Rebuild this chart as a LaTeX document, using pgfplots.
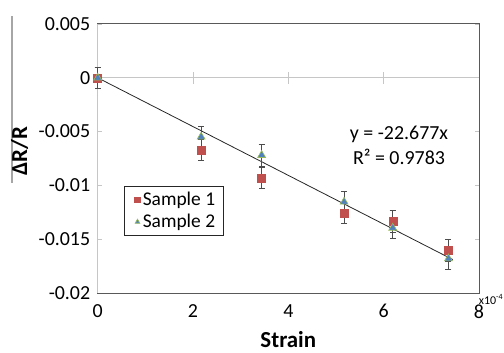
\documentclass[border=0pt]{standalone}
\usepackage{pgfplots}
\pgfplotsset{compat=1.18}
\usepackage{fontspec}
\setmainfont{Carlito}
\definecolor{sone}{HTML}{C0504D}
\definecolor{stwofill}{HTML}{4F81BD}
\definecolor{stwodraw}{HTML}{9BBB59}
\begin{document}
\begin{tikzpicture}
\begin{axis}[
  scale only axis, width=381.3bp, height=269bp,
  xmin=0, xmax=8, ymin=-0.02, ymax=0.005,
  clip=false, scaled y ticks=false, scaled x ticks=false,
  xtick={0,2,4,6,8}, xticklabels={0,2,4,6,8},
  ytick={-0.02,-0.015,-0.01,-0.005,0,0.005},
  yticklabels={-0.02,-0.015,-0.01,-0.005,0,0.005},
  x tick style={draw=none},
  y tick style={draw=gray!45, line width=0.8bp},
  major tick length=4bp, tick align=inside,
  ticklabel style={font=\fontsize{20}{24}\selectfont},
  xticklabel style={yshift=-8bp},
  yticklabel style={xshift=-4bp},
  axis line style={draw=black!65, line width=1bp},
  legend style={at={(axis description cs:0.0698,0.398)}, anchor=north west,
    draw=black!85, line width=1bp, font=\fontsize{19.5}{22}\selectfont,
    inner xsep=6bp, inner ysep=4bp, row sep=3bp},
  legend cell align=left,
  legend image code/.code={\path[draw=none, fill=none] (0bp,0bp) rectangle (10bp,0.1bp); \draw[#1, mark size=2.8bp] plot coordinates {(6.7bp,0bp)};},
  error bars/y dir=both, error bars/y explicit,
  error bars/error bar style={draw=black!70, line width=0.8bp},
  error bars/error mark options={rotate=90, mark size=3bp, draw=black!70, line width=0.8bp},
]
\draw[gray!45, line width=1bp] (axis cs:0,0) -- (axis cs:8,0);
\pgfplotsinvokeforeach{2,4,6}{\draw[gray!45, line width=1bp] ([yshift=-6bp]axis cs:#1,0) -- ([yshift=6bp]axis cs:#1,0);}
\draw[gray!45, line width=1bp] (rel axis cs:0,0) -- (rel axis cs:0,1);
\addplot[black!85, line width=0.8bp, forget plot] coordinates {(0,0) (7.45,-0.016894)};
\addplot[only marks, mark=square*, mark size=4bp, color=sone, mark options={fill=sone, draw=sone}]
  table[x=x, y=y, y error=e] {
x y e
0 0 0.001
2.17 -0.0067 0.001
3.44 -0.0093 0.001
5.17 -0.01256 0.001
6.19 -0.01333 0.001
7.36 -0.01603 0.001
};
\addlegendentry{Sample 1}
\addplot[only marks, mark=triangle*, mark size=4.6bp, color=stwodraw, mark options={fill=stwofill, draw=stwodraw, line width=0.6bp}]
  table[x=x, y=y, y error=e] {
x y e
0 0 0.001
2.17 -0.00549 0.001
3.44 -0.00719 0.001
5.17 -0.01153 0.001
6.19 -0.01395 0.001
7.36 -0.0168 0.001
};
\addlegendentry{Sample 2}
\end{axis}
\draw[gray!70, line width=1.2bp] (-85.7bp,110bp) -- (-85.7bp,277bp);
\node[rotate=90, font=\bfseries\fontsize{23}{26}\selectfont] at (-78bp,141.5bp) {ΔR/R};
\node[font=\bfseries\fontsize{23}{26}\selectfont] at (190.6bp,-47bp) {Strain};
\node[anchor=base west, inner sep=0pt, font=\fontsize{12}{14}\selectfont] at (381bp,-11bp) {x10\textsuperscript{-4}};
\node[align=center, font=\fontsize{20}{25}\selectfont] at (301.3bp,147.5bp) {y = -22.677x\\R² = 0.9783};
\pgfresetboundingbox
\path[use as bounding box] (-97.7bp,-60bp) rectangle (406.3bp,293bp);
\end{tikzpicture}
\end{document}
